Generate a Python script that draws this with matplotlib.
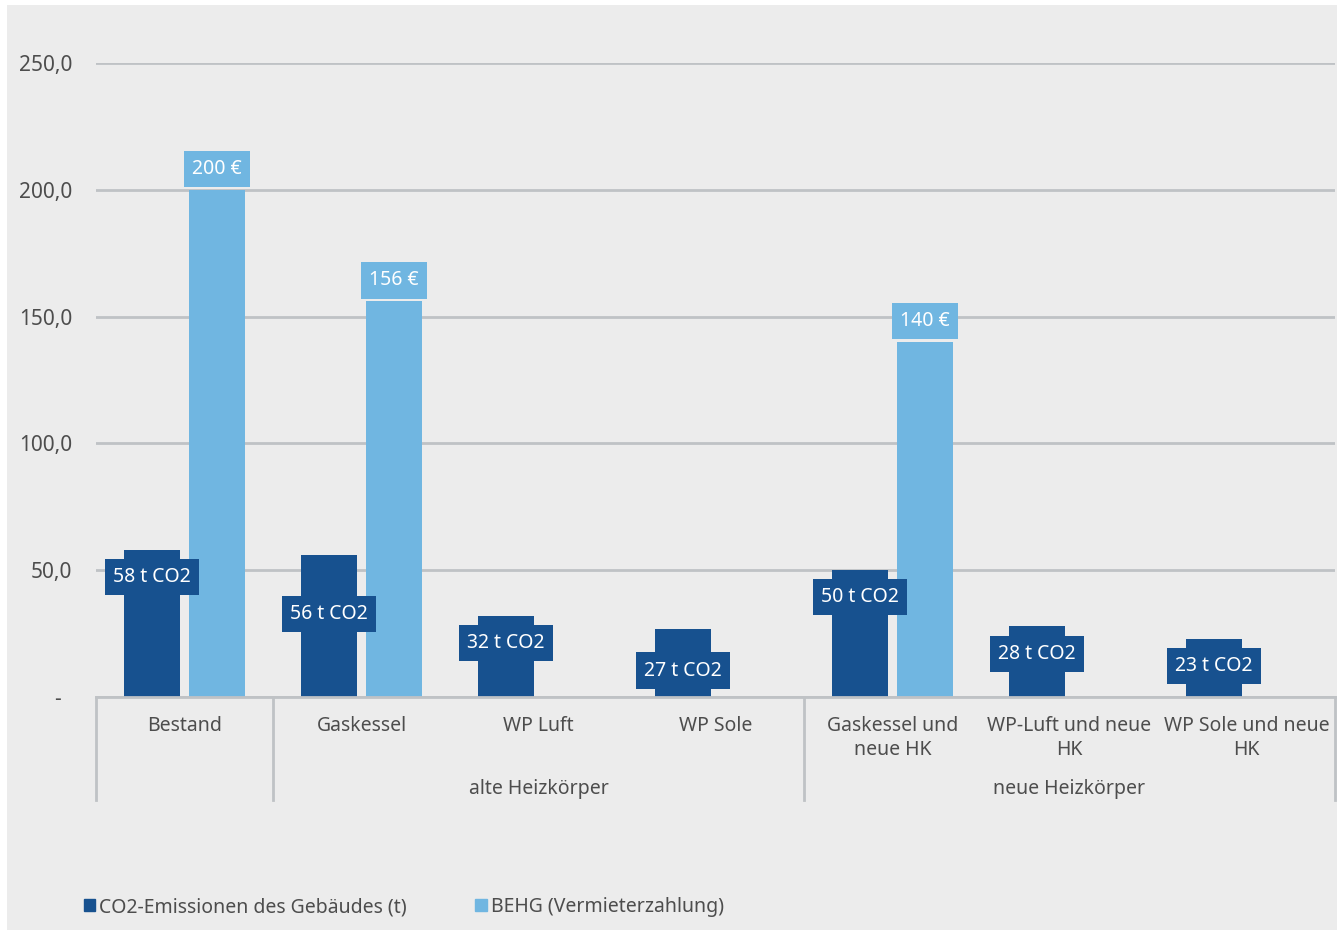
import matplotlib
matplotlib.use("Agg")
import matplotlib.pyplot as plt
import matplotlib.transforms as mtransforms
from matplotlib.patches import Rectangle, Patch
from matplotlib.ticker import FuncFormatter

categories = ["Bestand", "Gaskessel", "WP Luft", "WP Sole",
              "Gaskessel und\nneue HK", "WP-Luft und neue\nHK", "WP Sole und neue\nHK"]
groups = ["alte Heizkörper", "neue Heizkörper"]
group_spans = [(1, 3), (4, 6)]
co2_tonnes = [58, 56, 32, 27, 50, 28, 23]
behg_euro = [200, 156, 0, 0, 140, 0, 0]
series_names = ["CO2-Emissionen des Gebäudes (t)", "BEHG (Vermieterzahlung)"]

# label offsets in pixels (negative = below bar top)
co2_shift = [-27, -59, -27, -42, -27, -28, -27]
behg_shift = 21

DARK = "#17518f"
LIGHT = "#70b6e1"
BG = "#ececec"
GRID = "#bfc2c5"
TXT = "#4d4d4d"
FONT = "Noto Sans"
FS = 14

plt.rcParams["font.family"] = [FONT, "DejaVu Sans"]

W, H = 1337, 930
fig = plt.figure(figsize=(W / 100, H / 100), dpi=100)
fig.patch.set_facecolor("white")
fig.patches.append(Rectangle((7 / W, 0), 1, 1 - 5 / H, transform=fig.transFigure,
                             facecolor=BG, edgecolor="none", zorder=-10))

x0, x1, y0, y1 = 96, 1335, 697, 63
ax = fig.add_axes([x0 / W, 1 - y0 / H, (x1 - x0) / W, (y0 - y1) / H])
ax.set_facecolor("none")
for s in ax.spines.values():
    s.set_visible(False)

n = len(categories)
ax.set_xlim(-0.5, n - 0.5)
ax.set_ylim(0, 250)
ax.set_yticks([0, 50, 100, 150, 200, 250])
ax.yaxis.set_major_formatter(FuncFormatter(
    lambda v, p: "-  " if v == 0 else f"{v:.1f}".replace(".", ",")))
ax.tick_params(axis="y", length=0, pad=17, labelsize=FS + 1, labelcolor=TXT)
ax.yaxis.grid(True, color=GRID, lw=2)
ax.set_axisbelow(True)

bw = 0.316
off = 0.184
xs = list(range(n))
ax.bar([x - off for x in xs], co2_tonnes, width=bw, color=DARK, zorder=2)
ax.bar([x + off for x in xs], behg_euro, width=bw, color=LIGHT, zorder=2)

px2pt = 0.72
for x, v, sh in zip(xs, co2_tonnes, co2_shift):
    ax.annotate(f"{v} t CO2", (x - off, v), xytext=(0, sh * px2pt), textcoords="offset points",
                ha="center", va="center", color="white", fontsize=FS, zorder=4,
                bbox=dict(boxstyle="square,pad=0.42", fc=DARK, ec="none"))
for x, v in zip(xs, behg_euro):
    if v > 0:
        ax.annotate(f"{v} €", (x + off, v), xytext=(0, behg_shift * px2pt),
                    textcoords="offset points", ha="center", va="center",
                    color="white", fontsize=FS, zorder=4,
                    bbox=dict(boxstyle="square,pad=0.42", fc=LIGHT, ec="none"))

# category axis
trans = mtransforms.blended_transform_factory(ax.transData, ax.transAxes)
ax.plot([-0.5, n - 0.5], [0, 0], color=GRID, lw=2, transform=trans, clip_on=False, zorder=3)
sep_bottom = -(800 - y0) / (y0 - y1)
for b in [-0.5, 0.5, 3.5, 6.5]:
    ax.plot([b, b], [0, sep_bottom], color=GRID, lw=2, transform=trans, clip_on=False)
ax.set_xticks(xs)
ax.set_xticklabels(categories, fontsize=FS, color=TXT, linespacing=1.3)
ax.tick_params(axis="x", length=0, pad=13.5)

grp_y = -(789 - y0) / (y0 - y1)
for name, (a, b) in zip(groups, group_spans):
    ax.text((a + b) / 2, grp_y, name, transform=trans, ha="center", va="center",
            fontsize=FS, color=TXT)

handles = [Patch(color=DARK), Patch(color=LIGHT)]
fig.legend(handles, series_names, loc="center left", bbox_to_anchor=(76 / W, 1 - 907 / H),
           ncol=2, frameon=False, fontsize=FS, labelcolor=TXT, handlelength=0.6,
           handleheight=0.6, handletextpad=0.2, columnspacing=3.5, borderaxespad=0)

fig.savefig("out.png", dpi=100, facecolor=fig.get_facecolor())
